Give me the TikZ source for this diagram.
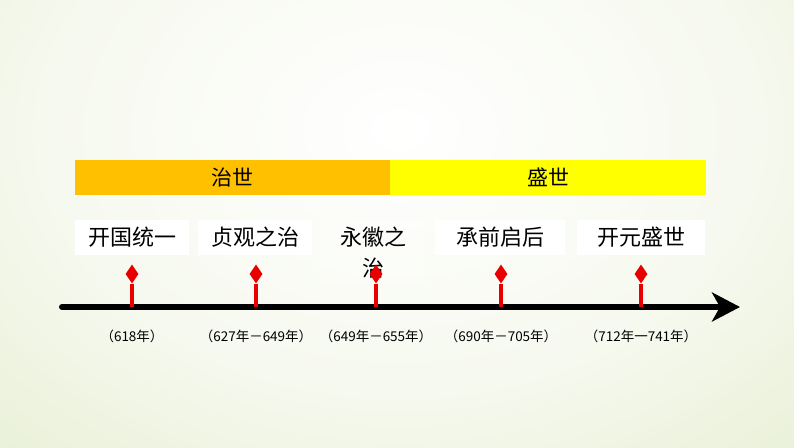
\documentclass[tikz,border=0pt]{standalone}
\usepackage{fontspec}
\setmainfont{Noto Sans CJK SC}
\usetikzlibrary{arrows.meta, shapes.geometric, positioning}
\definecolor{barorange}{RGB}{255,192,0}
\definecolor{baryellow}{RGB}{255,255,0}
\definecolor{bggreen}{RGB}{218,230,188}
\definecolor{markred}{RGB}{232,0,0}
\pgfdeclareradialshading{bgglow}{\pgfpoint{0bp}{0bp}}{color(0bp)=(white);
  color(10bp)=(white!75!bggreen); color(25bp)=(bggreen); color(50bp)=(bggreen)}

\begin{document}
\begin{tikzpicture}[x=1pt,y=-1pt,
  bar/.style={minimum width=315pt, minimum height=35pt, inner sep=0pt, font=\fontsize{21}{21}\selectfont},
  evbox/.style={fill=white, minimum height=35pt, inner sep=0pt, font=\fontsize{22}{22}\selectfont},
  marker/.style={diamond, fill=markred, minimum width=13pt, minimum height=19pt, inner sep=0pt},
  stem/.style={markred, line width=3.8pt},
  yearlbl/.style={font=\fontsize{13.5}{13.5}\selectfont},
  timeline/.style={line width=6pt, line cap=round, -{Stealth[length=28pt,width=29pt,inset=8pt]}}]
\useasboundingbox (0,0) rectangle (794,447);
% background
\begin{scope}
\clip (0,0) rectangle (794,447);
\shade[shading=bgglow] (-500,-530) rectangle (1300,790);
\end{scope}

% periods
\node[bar, fill=barorange] (zhi) at (232.5,177.5) {治世};
\node[bar, fill=baryellow, minimum width=316pt, anchor=west] (sheng) at (zhi.east) {盛世};

% events
\node[evbox, minimum width=114pt] (ev1) at (132,237) {开国统一};
\node[evbox, minimum width=114pt] (ev2) at (255,237) {贞观之治};
\node[evbox, fill opacity=0.35, text opacity=1, minimum width=104pt, minimum height=65pt,
  align=center, font=\fontsize{22}{31}\selectfont, anchor=north] (ev3) at (373,220) {永徽之\\治};
\node[evbox, minimum width=130pt] (ev4) at (500,237) {承前启后};
\node[evbox, minimum width=128pt] (ev5) at (641,237) {开元盛世};

% time axis
\coordinate (tl0) at (62,307);
\coordinate (tl1) at (740,307);
\draw[timeline] (tl0) -- (tl1);

\foreach \x/\yr [count=\i] in {132/（618年）, 256/（627年－649年）, 376/（649年－655年）,
    501/（690年－705年）, 641/（712年一741年）}{
  \node[marker] (m\i) at (\x,274) {};
  \draw[stem] (m\i.south) -- (m\i |- tl0);
  \node[yearlbl] (yr\i) at (\x,336) {\yr};
}
\end{tikzpicture}
\end{document}
